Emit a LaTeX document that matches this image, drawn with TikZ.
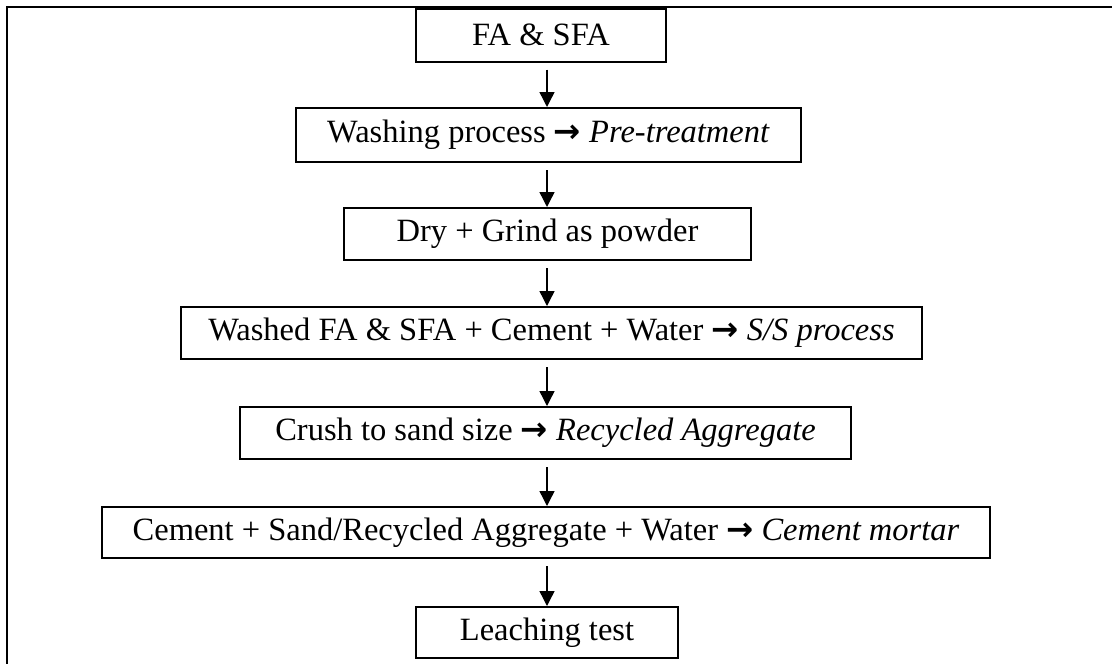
\documentclass[tikz,border=0pt]{standalone}
\usepackage{fontspec}
\setmainfont{Liberation Serif}
\newfontfamily\arrowfont{DejaVu Sans}
\usetikzlibrary{arrows.meta}
\newcommand{\ra}{{\arrowfont\bfseries →}}
\begin{document}
\begin{tikzpicture}[x=1pt,y=-1pt,
  stepbox/.style={draw,line width=2pt,inner sep=0pt,align=center,
    font=\fontsize{32.5}{38}\selectfont},
  flow/.style={line width=1.4pt,-{Triangle[length=15pt,width=15pt]}},
  frame/.style={line width=2.5pt}]
\useasboundingbox (0,0) rectangle (1112,664);
\draw[frame] (7,664) -- (7,7) -- (1112,7);
\coordinate (ax) at (547,0);
\node[stepbox,minimum width=250pt,minimum height=53pt] (b1) at (541,35) {FA \& SFA};
\node[stepbox,minimum width=505pt,minimum height=54pt] (b2) at (548.5,135) {Washing process \ra\ \textit{Pre-treatment}};
\node[stepbox,minimum width=407pt,minimum height=52pt] (b3) at (547.5,234) {Dry + Grind as powder};
\node[stepbox,minimum width=741pt,minimum height=52pt] (b4) at (551.5,333) {Washed FA \& SFA + Cement + Water \ra\ \textit{S/S process}};
\node[stepbox,minimum width=611pt,minimum height=52pt] (b5) at (545.5,433) {Crush to sand size \ra\ \textit{Recycled Aggregate}};
\node[stepbox,minimum width=888pt,minimum height=51pt] (b6) at (546,532.5) {Cement + Sand/Recycled Aggregate + Water \ra\ \textit{Cement mortar}};
\node[stepbox,minimum width=262pt,minimum height=51pt] (b7) at (547,632.5) {Leaching test};
\foreach \a/\b in {b1/b2,b2/b3,b3/b4,b4/b5,b5/b6,b6/b7}{
  \draw[flow] ([yshift=-7pt]\a.south -| ax) -- (\b.north -| ax);
}
\end{tikzpicture}
\end{document}
